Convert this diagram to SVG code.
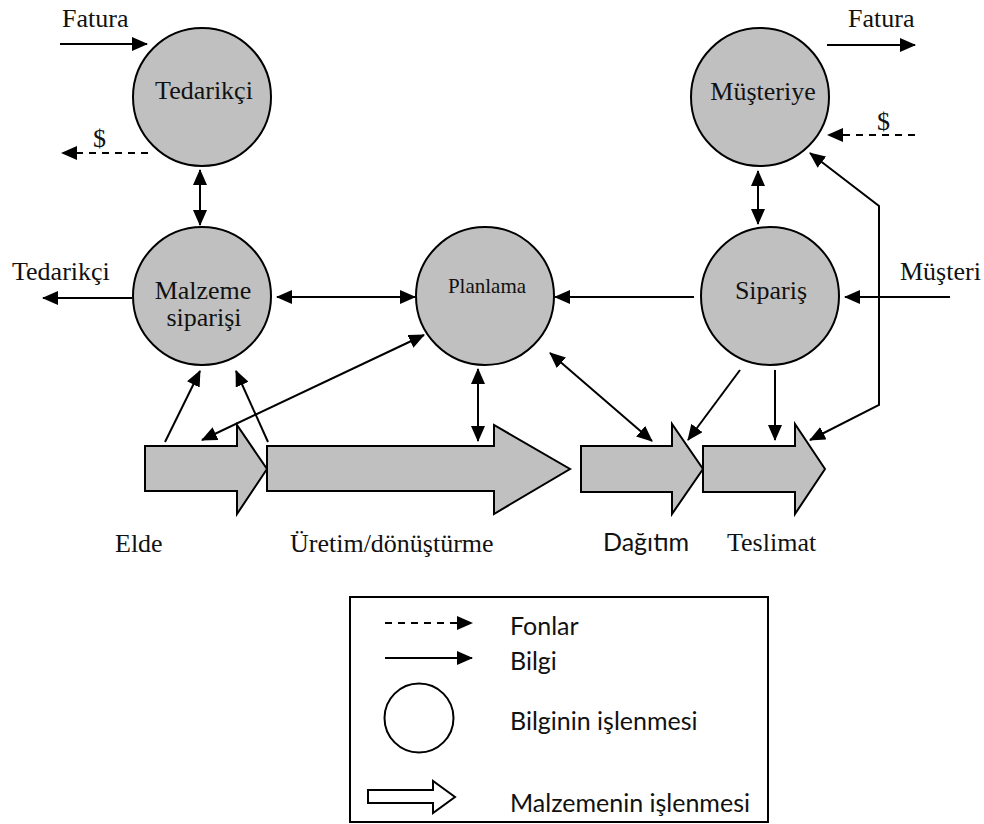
<svg xmlns="http://www.w3.org/2000/svg" width="984" height="824" viewBox="0 0 984 824">
  <defs>
    <marker id="head" markerUnits="userSpaceOnUse" markerWidth="16" markerHeight="14" refX="15" refY="7" orient="auto-start-reverse" viewBox="0 0 16 14">
      <path d="M0,0 L16,7 L0,14 Z" fill="#000"/>
    </marker>
    <style>
      .node { fill: #c0c0c0; stroke: #000; stroke-width: 2; }
      .flow { fill: #c0c0c0; stroke: #000; stroke-width: 2; stroke-linejoin: miter; }
      .info { fill: none; stroke: #000; stroke-width: 2; }
      .fund { fill: none; stroke: #000; stroke-width: 2; stroke-dasharray: 7 6; }
      .arr { marker-end: url(#head); }
      .both { marker-start: url(#head); marker-end: url(#head); }
      .serif { font-family: "Liberation Serif", "Times New Roman", serif; fill: #111; }
      .sans { font-family: Lato, "Liberation Sans", sans-serif; fill: #111; }
      .lbl { font-size: 26px; }
      .key { font-size: 25px; }
    </style>
  </defs>
  <rect width="984" height="824" fill="#fff"/>

  <!-- information-processing nodes -->
  <g id="tedarikci">
    <circle class="node" cx="202" cy="97" r="69"/>
    <text class="serif lbl" x="204" y="99" text-anchor="middle">Tedarikçi</text>
  </g>
  <g id="malzeme-siparisi">
    <circle class="node" cx="202" cy="296" r="69"/>
    <text class="serif lbl" x="203" y="299" text-anchor="middle">Malzeme</text>
    <text class="serif lbl" x="204" y="326" text-anchor="middle">siparişi</text>
  </g>
  <g id="planlama">
    <circle class="node" cx="485" cy="296" r="69"/>
    <text class="serif" font-size="21" x="487" y="293" text-anchor="middle">Planlama</text>
  </g>
  <g id="musteriye">
    <circle class="node" cx="760" cy="97" r="69"/>
    <text class="serif lbl" x="763" y="100" text-anchor="middle">Müşteriye</text>
  </g>
  <g id="siparis">
    <circle class="node" cx="770" cy="296" r="69"/>
    <text class="serif lbl" x="771" y="299" text-anchor="middle">Sipariş</text>
  </g>

  <!-- material-processing block arrows -->
  <g id="elde">
    <path class="flow" d="M145,446 H237 V425 L267,469 L237,514 V491 H145 Z"/>
    <text class="serif lbl" x="115" y="552">Elde</text>
  </g>
  <g id="uretim">
    <path class="flow" d="M267,446 H494 V425 L570,469 L494,514 V491 H267 Z"/>
    <text class="serif lbl" x="290" y="552">Üretim/dönüştürme</text>
  </g>
  <g id="dagitim">
    <path class="flow" d="M581,446 H672 V424 L703,469 L672,514 V492 H581 Z"/>
    <text class="sans" font-size="25" x="603" y="551">Dağıtım</text>
  </g>
  <g id="teslimat">
    <path class="flow" d="M703,446 H795 V424 L825,469 L795,514 V492 H703 Z"/>
    <text class="serif lbl" x="727" y="551">Teslimat</text>
  </g>

  <!-- free-standing labels -->
  <g id="labels">
    <text class="serif lbl" x="62" y="27">Fatura</text>
    <text class="serif lbl" x="93" y="147">$</text>
    <text class="serif lbl" x="12" y="280">Tedarikçi</text>
    <text class="serif lbl" x="848" y="27">Fatura</text>
    <text class="serif lbl" x="877" y="130">$</text>
    <text class="serif lbl" x="900" y="280">Müşteri</text>
  </g>

  <!-- connectors -->
  <g id="connectors">
    <line class="info arr" x1="60" y1="44" x2="147" y2="44"/>
    <line class="fund arr" x1="148" y1="153" x2="62" y2="153"/>
    <line class="info both" x1="200" y1="170" x2="200" y2="225"/>
    <line class="info arr" x1="132" y1="298" x2="43" y2="298"/>
    <line class="info both" x1="277" y1="297" x2="415" y2="297"/>
    <line class="info arr" x1="694" y1="297" x2="555" y2="297"/>
    <line class="info arr" x1="950" y1="297" x2="845" y2="297"/>
    <line class="info both" x1="758" y1="171" x2="758" y2="224"/>
    <line class="info arr" x1="827" y1="45" x2="915" y2="45"/>
    <line class="fund arr" x1="915" y1="135" x2="828" y2="135"/>
    <polyline class="info both" points="810,153 879,206 879,405 810,440"/>
    <line class="info arr" x1="740" y1="370" x2="688" y2="440"/>
    <line class="info arr" x1="775" y1="370" x2="775" y2="440"/>
    <line class="info both" x1="550" y1="353" x2="652" y2="441"/>
    <line class="info both" x1="478" y1="369" x2="478" y2="441"/>
    <line class="info both" x1="202" y1="440" x2="424" y2="335"/>
    <line class="info arr" x1="165" y1="442" x2="200" y2="371"/>
    <line class="info arr" x1="268" y1="442" x2="236" y2="371"/>
  </g>

  <!-- legend -->
  <g id="legend">
    <rect x="350" y="597" width="418" height="225" fill="#fff" stroke="#000" stroke-width="2"/>
    <line class="fund arr" x1="385" y1="623" x2="472" y2="623" stroke-dasharray="6 5"/>
    <text class="sans key" x="510" y="635">Fonlar</text>
    <line class="info arr" x1="385" y1="658" x2="472" y2="658"/>
    <text class="sans key" x="510" y="670">Bilgi</text>
    <circle cx="419" cy="718" r="34.5" fill="#fff" stroke="#000" stroke-width="2"/>
    <text class="sans key" x="510" y="730">Bilginin işlenmesi</text>
    <path d="M368,790 H433 V781 L455,797 L433,813 V803 H368 Z" fill="#fff" stroke="#000" stroke-width="2"/>
    <text class="sans key" x="510" y="812">Malzemenin işlenmesi</text>
  </g>
</svg>
